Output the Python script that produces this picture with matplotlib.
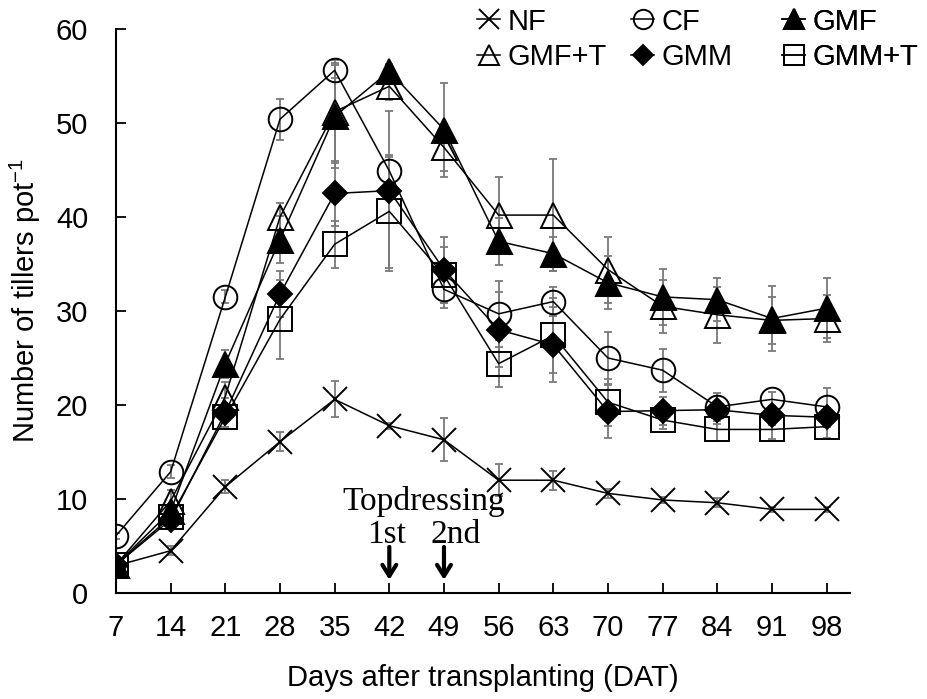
import numpy as np
import matplotlib.pyplot as plt

plt.rcParams["font.family"] = ["Liberation Sans", "DejaVu Sans"]
plt.rcParams["mathtext.fontset"] = "custom"
plt.rcParams["mathtext.rm"] = "Liberation Sans"
plt.rcParams["mathtext.it"] = "Liberation Sans:italic"

days = [7, 14, 21, 28, 35, 42, 49, 56, 63, 70, 77, 84, 91, 98]

nf = [2.9, 4.5, 11.3, 16.1, 20.6, 17.8, 16.3, 12.0, 12.0, 10.6, 9.9, 9.6, 8.9, 8.9]
cf = [6.1, 12.9, 31.5, 50.4, 55.6, 44.9, 32.3, 29.7, 31.0, 25.0, 23.7, 19.8, 20.6, 19.8]
gmf = [3.0, 8.7, 24.4, 37.6, 50.7, 55.5, 49.3, 37.4, 36.1, 33.0, 31.5, 31.2, 29.2, 30.3]
gmf_t = [3.0, 9.8, 20.9, 40.0, 51.2, 53.9, 47.4, 40.2, 40.2, 34.4, 30.5, 29.6, 29.0, 29.2]
gmm = [3.0, 7.8, 19.2, 31.8, 42.5, 42.8, 34.4, 28.0, 26.4, 19.3, 19.4, 19.5, 18.9, 18.7]
gmm_t = [3.0, 8.1, 18.7, 29.1, 37.1, 40.6, 33.8, 24.4, 27.4, 20.3, 18.4, 17.4, 17.4, 17.7]

nf_err = [0.3, 0.5, 0.7, 1.0, 1.9, 0.3, 2.3, 1.7, 1.0, 0.5, 0.3, 0.5, 0.3, 0.3]
cf_err = [0.3, 0.7, 0.7, 2.2, 0.8, 1.5, 2.0, 3.5, 1.5, 2.8, 2.3, 1.5, 0.8, 2.0]
gmf_err = [0.3, 0.8, 1.5, 2.5, 5.5, 0.8, 5.0, 2.5, 1.8, 2.8, 3.0, 2.3, 3.5, 3.2]
gmf_t_err = [0.3, 1.2, 1.5, 1.5, 5.5, 1.5, 2.5, 4.0, 6.0, 3.5, 2.8, 3.0, 2.5, 2.5]
gmm_err = [0.3, 1.0, 1.5, 2.4, 3.5, 8.5, 3.5, 4.0, 4.0, 2.8, 1.5, 1.5, 1.0, 1.0]
gmm_t_err = [0.3, 0.8, 1.0, 4.2, 2.5, 6.0, 3.0, 2.5, 4.0, 2.5, 1.0, 1.2, 1.0, 1.2]

# name, values, error, marker, face colour, marker size
series = [
    ("NF", nf, nf_err, "x", "black", 17),
    ("CF", cf, cf_err, "o", "none", 17),
    ("GMF", gmf, gmf_err, "^", "black", 18),
    ("GMF+T", gmf_t, gmf_t_err, "^", "none", 18),
    ("GMM", gmm, gmm_err, "D", "black", 12),
    ("GMM+T", gmm_t, gmm_t_err, "s", "none", 17),
]

fig = plt.figure(figsize=(9.28, 6.99), dpi=100)
ax = fig.add_axes([0.125, 0.1516, 0.791, 0.807])

for name, vals, err, mk, fc, ms in series:
    ax.errorbar(days, vals, yerr=err, fmt="none", ecolor="#7a7a7a",
                elinewidth=1.3, capsize=3, capthick=1.3, zorder=1)

lines = {}
for name, vals, err, mk, fc, ms in series:
    (ln,) = ax.plot(days, vals, color="black", lw=1.1, marker=mk, markersize=ms,
                    markerfacecolor=fc, markeredgecolor="black",
                    markeredgewidth=1.4, label=name, zorder=2)
    lines[name] = ln

ax.set_xlim(7, 101)
ax.set_ylim(0, 60)
ax.set_xticks(days)
ax.set_yticks(range(0, 61, 10))
ax.spines["top"].set_visible(False)
ax.spines["right"].set_visible(False)
ax.spines["left"].set_linewidth(1.5)
ax.spines["bottom"].set_linewidth(1.5)
ax.tick_params(axis="both", direction="in", length=7, width=1.3, labelsize=21)
ax.tick_params(axis="x", pad=15)
ax.tick_params(axis="y", pad=20)
ax.xaxis.get_major_ticks()[0].tick1line.set_visible(False)

ax.set_xlabel("Days after transplanting (DAT)", fontsize=21, labelpad=16)
ax.set_ylabel("Number of tillers pot$^{-1}$", fontsize=21)
ax.yaxis.set_label_coords(-0.100, 0.518)

serif = "Liberation Serif"
ax.text(46.4, 9.7, "Topdressing", family=serif, fontsize=24,
        ha="center", va="center")
ax.text(41.6, 6.2, "1st", family=serif, fontsize=24, ha="center", va="center")
ax.text(50.5, 6.2, "2nd", family=serif, fontsize=24, ha="center", va="center")
for d in [42, 49]:
    ax.annotate("", xy=(d, 1.4), xytext=(d, 4.9),
                arrowprops=dict(arrowstyle="->,head_length=0.8,head_width=0.5",
                                color="black", lw=3, mutation_scale=10,
                                shrinkA=0, shrinkB=0))

# legend: three columns, filled row by row
columns = [("NF", "GMF+T", 477), ("CF", "GMM", 631), ("GMF", "GMM+T", 782)]
for top, bottom, xpix in columns:
    leg = ax.legend([lines[top], lines[bottom]], [top, bottom],
                    loc="upper left", bbox_to_anchor=(xpix / 928, 0.989),
                    bbox_transform=fig.transFigure, frameon=False,
                    fontsize=21, borderpad=0, borderaxespad=0,
                    handlelength=0.8, handletextpad=0.25,
                    labelspacing=0.25, markerscale=0.82)
    ax.add_artist(leg)

fig.savefig("out.png", dpi=100)
